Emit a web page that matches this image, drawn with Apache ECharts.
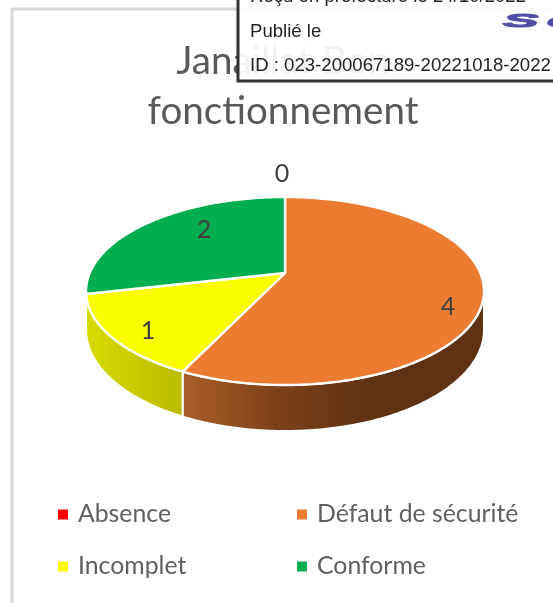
<!DOCTYPE html>
<html><head><meta charset="utf-8">
<style>html,body{margin:0;padding:0;background:#fff}#c{width:553px;height:603px}</style>
<script src="https://cdn.jsdelivr.net/npm/echarts@6/dist/echarts.min.js"></script>
</head><body><div id="c"></div>
<script>
const categories = ['Absence', 'Défaut de sécurité', 'Incomplet', 'Conforme'];
const values = [0, 4, 1, 2];
const topColors = ['#FF0000', '#EB7C31', '#FCFC00', '#00AE50'];
const titleLines = ['Janaillat Bon', 'fonctionnement'];
const stampLines = ['Reçu en préfecture le 24/10/2022', 'Publié le', 'ID : 023-200067189-20221018-2022'];

const total = values.reduce((a, b) => a + b, 0);
const CX = 285, R = 195.3, A = 38.3, B = 273, C = -0.1915, DEPTH = 37.2;
function proj(theta, r, drop) {
  const u = Math.sin(theta) * r, v = -Math.cos(theta) * r, w = 1 + C * v;
  return [CX + R * u / w, (A * v + B) / w + (drop || 0) / w];
}
function arc(a0, a1, drop) {
  const n = Math.max(2, Math.ceil(Math.abs(a1 - a0) * 60)), out = [];
  for (let i = 0; i <= n; i++) out.push(proj(a0 + (a1 - a0) * i / n, 1, drop));
  return out;
}
const wallStart = Math.acos(0.1915 * -1) , wallEnd = 2 * Math.PI - wallStart;
const wallStops = {
  1: [[186, '#A85C28'], [280, '#7B4019'], [370, '#5F3213'], [484, '#5F3213']],
  2: [[88, '#D9D900'], [183, '#BABA00']]
};
const labelPos = [[282, 174], [448, 307], [148, 331], [204, 230]];

function angleOf(i) {
  let s = 0;
  for (let k = 0; k < i; k++) s += values[k];
  return [s / total * 2 * Math.PI, (s + values[i]) / total * 2 * Math.PI];
}
function renderer(i) {
  return function (params, api) {
    const val = api.value(0);
    const [a0, a1] = angleOf(i);
    const kids = [];
    if (val > 0) {
      const w0 = Math.max(a0, wallStart), w1 = Math.min(a1, wallEnd);
      if (w1 > w0 && wallStops[i]) {
        const top = arc(w0, w1, 0), bot = arc(w1, w0, DEPTH);
        const pts = top.concat(bot);
        const xs = wallStops[i].map(s => s[0]);
        const x0 = Math.min(...xs), x1 = Math.max(...xs);
        kids.push({
          type: 'polygon', shape: { points: pts },
          style: {
            fill: new echarts.graphic.LinearGradient(x0, 0, x1, 0,
              wallStops[i].map(s => ({ offset: (s[0] - x0) / (x1 - x0), color: s[1] })), true),
            stroke: '#fff', lineWidth: 2
          }
        });
      }
      const pts = [[CX, B]].concat(arc(a0, a1, 0));
      kids.push({
        type: 'polygon', shape: { points: pts },
        style: { fill: topColors[i], stroke: '#fff', lineWidth: 2.4, lineJoin: 'round' }
      });
    }
    return { type: 'group', children: kids };
  };
}
function labelRenderer(params, api) {
  const i = api.value(0);
  return {
    type: 'text', x: labelPos[i][0], y: labelPos[i][1],
    style: { text: String(values[i]), fontFamily: 'Lato', fontSize: 25, fill: '#404040', align: 'center', verticalAlign: 'middle' }
  };
}
const series = categories.map((name, i) => ({
  type: 'custom', name, coordinateSystem: 'none', silent: true, animation: false,
  itemStyle: { color: topColors[i] }, z: 2,
  renderItem: renderer(i), data: [[values[i]]]
}));
series.push({
  type: 'custom', name: 'labels', coordinateSystem: 'none', silent: true, animation: false, z: 3,
  renderItem: labelRenderer, data: values.map((v, i) => [i])
});

const legendCommon = {
  orient: 'vertical', icon: 'rect', itemWidth: 10, itemHeight: 10, itemGap: 23, selectedMode: false,
  textStyle: { fontFamily: 'Lato', fontSize: 24.8, color: '#606060', padding: [0, 0, 0, 5], lineHeight: 29 }
};
const stampFont = { fontFamily: 'Liberation Sans', fontSize: 18.6, fill: '#222', verticalAlign: 'middle' };
const logoFont = { fontFamily: 'Liberation Sans', fontSize: 19, fontWeight: 'bold', fontStyle: 'italic', fill: '#4F4FA8', stroke: '#4F4FA8', lineWidth: 1, verticalAlign: 'middle' };
const chart = echarts.init(document.getElementById('c'), null, { renderer: 'canvas' });
chart.setOption({
  animation: false,
  color: topColors,
  title: {
    text: titleLines.join('\n'), left: 278, top: 32, textAlign: 'center',
    textStyle: { fontFamily: 'Lato', fontSize: 38.6, fontWeight: 'normal', color: '#595959', lineHeight: 50 }
  },
  legend: [
    Object.assign({}, legendCommon, { left: 53, top: 495, data: [categories[0], categories[2]] }),
    Object.assign({}, legendCommon, { left: 292, top: 495, data: [categories[1], categories[3]] })
  ],
  graphic: [
    { type: 'rect', z: -1, shape: { x: 12, y: 9, width: 700, height: 800 }, style: { fill: '#fff', stroke: '#D9D9D9', lineWidth: 3 } },
    { type: 'rect', z: 100, zlevel: 1, shape: { x: 238, y: -10, width: 400, height: 91 }, style: { fill: 'rgba(255,255,255,0.92)', stroke: '#333', lineWidth: 3 } },
    { type: 'text', z: 101, zlevel: 1, x: 250, y: -3, style: Object.assign({ text: stampLines[0] }, stampFont) },
    { type: 'text', z: 101, zlevel: 1, x: 250, y: 32, style: Object.assign({ text: stampLines[1] }, stampFont) },
    { type: 'text', z: 101, zlevel: 1, x: 250, y: 66, style: Object.assign({ text: stampLines[2] }, stampFont) },
    { type: 'text', z: 101, zlevel: 1, x: 503, y: 22, scaleX: 2.8, style: Object.assign({ text: 'S' }, logoFont) },
    { type: 'text', z: 101, zlevel: 1, x: 547, y: 22, scaleX: 2.8, style: Object.assign({ text: 'e' }, logoFont) }
  ],
  series
});
</script></body></html>
